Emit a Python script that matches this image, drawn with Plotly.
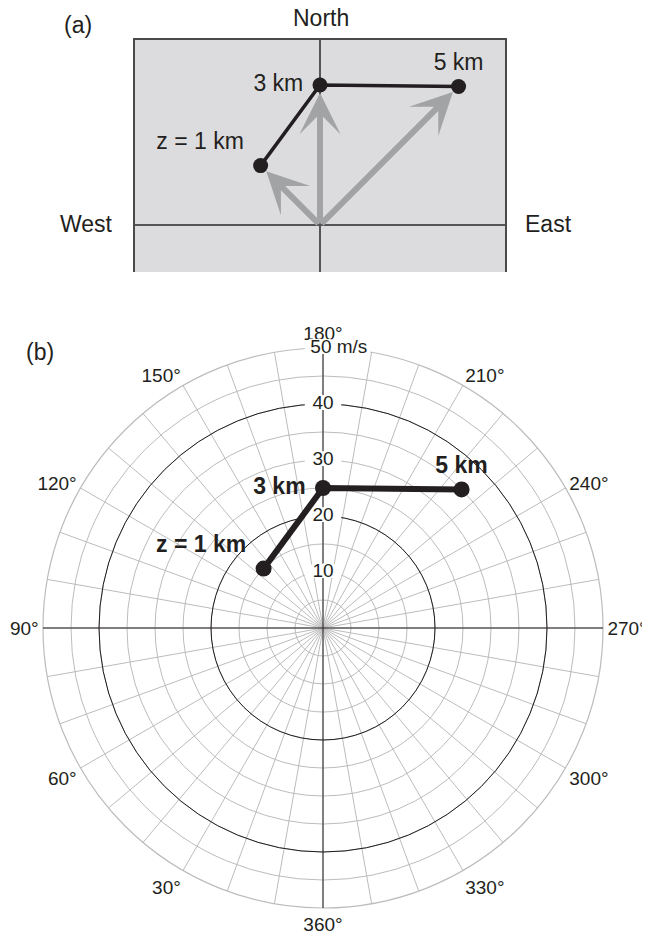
import numpy as np
import plotly.graph_objects as go

# ветер на трёх высотах (годограф)
heights = ['z = 1 km', '3 km', '5 km']
speed = [15, 25, 35]            # m/s
direction = [135, 180, 225]     # градусы, откуда дует ветер
label_pos = ['top left', 'middle left', 'top center']

# подписи колец и направлений полярной сетки
ring_grid = [5, 10, 15, 20, 25, 30, 35, 40, 45, 50]
ring_bold = [20, 40]
ring_vals = [10, 20, 30, 40, 50]
ring_text = ['10', '20', '30', '40', '\u00a0' * 6 + '50 m/s']
angle_ticks = list(range(0, 360, 10))
angle_text = [('360°' if a == 0 else f'{a}°') if a % 30 == 0 else '' for a in angle_ticks]
angle_bold = [0, 90, 180, 270]

FONT = 'Liberation Sans, Arial, sans-serif'
INK = '#231f20'
GRAY = '#bcbcbc'
OFF = 8                       # отступ body в html-странице
W, H = 650 - OFF, 934 - OFF


def px(x):
    return (x - OFF) / W


def py(y):
    return 1 - (y - OFF) / H


# компоненты u, v для панели (a)
rad = np.radians(direction)
u = -np.array(speed) * np.sin(rad)
v = -np.array(speed) * np.cos(rad)

# немного воздуха между точкой и подписью слева
labels = [h + '\u00a0' if p.endswith('left') else h for h, p in zip(heights, label_pos)]

fig = go.Figure()

# панель (a)
fig.add_trace(go.Scatter(x=u, y=v, mode='lines+markers+text', text=labels,
                         textposition=label_pos, cliponaxis=False,
                         textfont=dict(family=FONT, size=23, color=INK),
                         line=dict(color=INK, width=3.5),
                         marker=dict(color=INK, size=15), hoverinfo='skip'))

# панель (b): нижняя серая сетка (нужен хоть один след, иначе не рисуется)
fig.add_trace(go.Scatterpolar(r=speed, theta=direction, mode='markers',
                              marker=dict(opacity=0), subplot='polar', hoverinfo='skip'))

# подложки под подписями колец
halo = ', '.join(f'{dx}px {dy}px 0 white' for dx, dy in
                 [(4, 0), (-4, 0), (0, 1), (0, -1), (3, 1), (-3, 1), (3, -1), (-3, -1)])
fig.add_trace(go.Scatterpolar(r=ring_vals, theta=[180] * len(ring_vals), mode='markers',
                              marker=dict(symbol='line-ew', size=26,
                                          color='white', line=dict(color='white', width=12)),
                              subplot='polar2', hoverinfo='skip'))
fig.add_trace(go.Scatterpolar(r=ring_vals, theta=[180] * len(ring_vals), mode='text',
                              text=ring_text, textposition='middle center',
                              textfont=dict(family=FONT, size=19, color=INK, shadow=halo),
                              subplot='polar2', hoverinfo='skip'))
fig.add_trace(go.Scatterpolar(r=speed, theta=direction, mode='lines+markers+text',
                              text=labels, textposition=label_pos,
                              textfont=dict(family=FONT, size=23, color=INK, weight='bold'),
                              line=dict(color=INK, width=6),
                              marker=dict(color=INK, size=16),
                              subplot='polar2', hoverinfo='skip'))

# серые стрелки векторов ветра
arrows = [dict(x=u[i], y=v[i], ax=0, ay=0, xref='x', yref='y', axref='x', ayref='y',
               text='', showarrow=True, arrowhead=3, arrowsize=1.15, arrowwidth=6,
               arrowcolor='#a2a3a5', standoff=8) for i in range(len(u))]

texts = [
    dict(text='North', x=px(321), y=py(18)),
    dict(text='West', x=px(86), y=py(224)),
    dict(text='East', x=px(548), y=py(224)),
    dict(text='(a)', x=px(78), y=py(25)),
    dict(text='(b)', x=px(40), y=py(352)),
]
for t in texts:
    t.update(xref='paper', yref='paper', showarrow=False, xanchor='center',
             yanchor='middle', font=dict(family=FONT, size=23, color=INK))

cx, cy, R = 323, 628, 280
polar_domain = dict(x=[px(cx - R), px(cx + R)], y=[py(cy + R), py(cy - R)])

fig.update_layout(
    width=W, height=H, margin=dict(l=0, r=0, t=0, b=0),
    paper_bgcolor='white', plot_bgcolor='#dcdcde', showlegend=False,
    xaxis=dict(domain=[px(135), px(505)], range=[-33.04, 33.04], side='top',
               showline=True, linecolor='#4a4a4a', linewidth=1.5, showgrid=False,
               zeroline=True, zerolinecolor='#555555', zerolinewidth=1.5,
               showticklabels=False, ticks=''),
    yaxis=dict(domain=[py(272), py(40)], range=[-8.39, 33.04], showline=True, mirror=True,
               linecolor='#4a4a4a', linewidth=1.5, showgrid=False,
               zeroline=True, zerolinecolor='#555555', zerolinewidth=1.5,
               showticklabels=False, ticks=''),
    polar=dict(domain=polar_domain, bgcolor='white',
               radialaxis=dict(range=[0, 50], tickvals=ring_grid, showticklabels=False,
                               showline=False, ticks='', gridcolor=GRAY, gridwidth=1),
               angularaxis=dict(rotation=270, direction='clockwise', tickvals=angle_ticks,
                                ticktext=angle_text, ticks='', showline=True,
                                linecolor=GRAY, linewidth=1.2, gridcolor=GRAY, gridwidth=1,
                                tickfont=dict(family=FONT, size=19, color=INK))),
    polar2=dict(domain=polar_domain, bgcolor='rgba(0,0,0,0)',
                radialaxis=dict(range=[0, 50], tickvals=ring_bold, showticklabels=False,
                                showline=False, ticks='', gridcolor=INK, gridwidth=1.3),
                angularaxis=dict(rotation=270, direction='clockwise', tickvals=angle_bold,
                                 showticklabels=False, ticks='', showline=False,
                                 gridcolor=INK, gridwidth=1.3)),
    annotations=arrows + texts,
)

fig.write_html("out.html")
